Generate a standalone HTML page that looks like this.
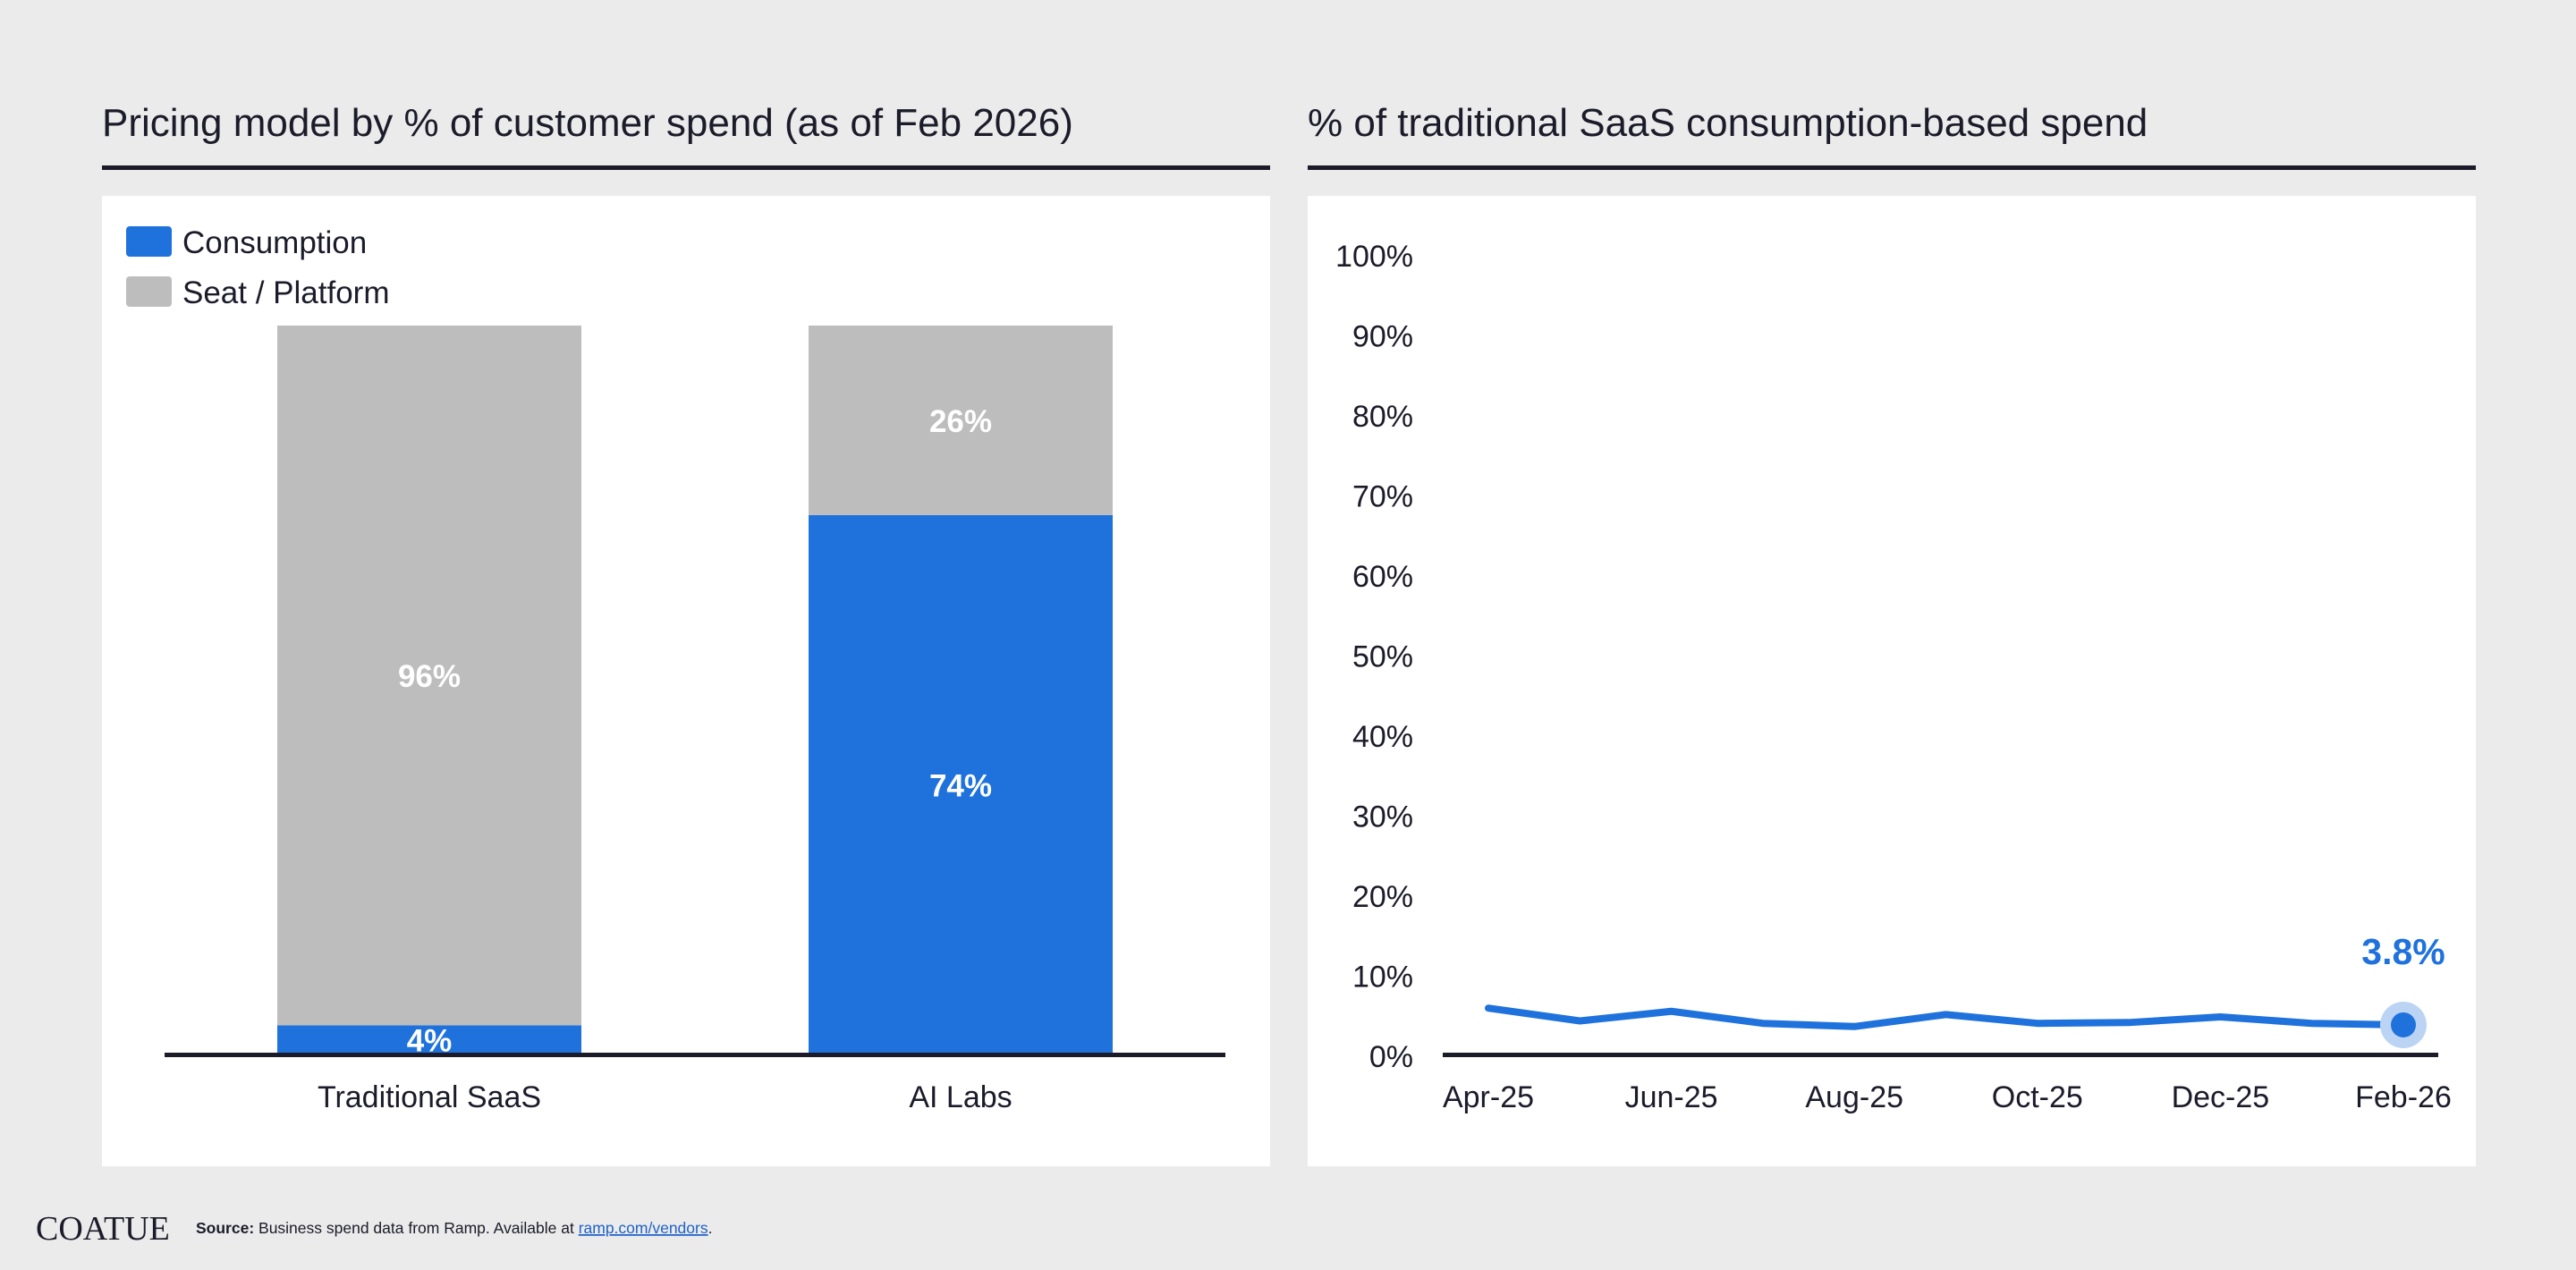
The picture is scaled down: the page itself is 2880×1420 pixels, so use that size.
<!DOCTYPE html>
<html><head><meta charset="utf-8"><style>
html,body{margin:0;padding:0;background:#ebebeb;}
svg{display:block;font-family:"Liberation Sans",Arial,sans-serif;}
</style></head><body>
<svg id="s" width="2880" height="1420" viewBox="0 0 2880 1420" xmlns="http://www.w3.org/2000/svg">
<rect x="0" y="0" width="2880" height="1420" fill="#ebebeb"/>
<text x="114" y="152" font-size="44" fill="#1b1b2a">Pricing model by % of customer spend (as of Feb 2026)</text>
<rect x="114" y="185" width="1306" height="5" fill="#1b1b2a"/>
<text x="1462" y="152" font-size="44" fill="#1b1b2a">% of traditional SaaS consumption-based spend</text>
<rect x="1462" y="185" width="1306" height="5" fill="#1b1b2a"/>
<rect x="114" y="219" width="1306" height="1085" fill="#fff"/>
<rect x="1462" y="219" width="1306" height="1085" fill="#fff"/>
<g>
<rect x="141" y="253" width="51" height="34" rx="4" fill="#1f72dc"/>
<text x="204" y="283" font-size="35" fill="#1b1b2a">Consumption</text>
<rect x="141" y="309" width="51" height="34" rx="4" fill="#bdbdbd"/>
<text x="204" y="339" font-size="35" fill="#1b1b2a">Seat / Platform</text>
</g>
<g id="bars"></g>
<g id="line"></g>
<text x="40" y="1386" font-size="38" font-family="'Liberation Serif',serif" fill="#1b1b2a">COATUE</text>
<text x="219" y="1379" font-size="17.5" fill="#1b1b2a"><tspan font-weight="bold">Source:</tspan> Business spend data from Ramp. Available at <tspan fill="#1f62c8" text-decoration="underline">ramp.com/vendors</tspan>.</text>
</svg>
<script>
const barCategories=["Traditional SaaS","AI Labs"];
const consumptionValues=[4,74];
const seatValues=[96,26];
const lineMonths=["Apr-25","May-25","Jun-25","Jul-25","Aug-25","Sep-25","Oct-25","Nov-25","Dec-25","Jan-26","Feb-26"];
const lineValues=[5.9,4.3,5.5,4.0,3.6,5.1,4.0,4.1,4.8,4.0,3.8];
const yTicks=[0,10,20,30,40,50,60,70,80,90,100];
const xTickLabels=["Apr-25","Jun-25","Aug-25","Oct-25","Dec-25","Feb-26"];
const NS="http://www.w3.org/2000/svg";
function mk(t,a,p){const e=document.createElementNS(NS,t);for(const k in a)e.setAttribute(k,a[k]);p.appendChild(e);return e;}
const bg=document.getElementById('bars');
const bBase=1179,bTop=364,bH=bBase-bTop;
const bY=v=>bBase-v/100*bH;
const bCenters=[480,1074],bW=340;
barCategories.forEach((c,i)=>{
 const cx=bCenters[i],x=cx-bW/2;
 const cv=consumptionValues[i],sv=seatValues[i];
 const r1=mk('rect',{x:x,y:bY(cv),width:bW,height:bBase-bY(cv),fill:'#1f72dc'},bg);
 
 
 const r2=mk('rect',{x:x,y:bY(cv+sv),width:bW,height:bY(cv)-bY(cv+sv),fill:'#bdbdbd'},bg);
 
 
 const t1=mk('text',{x:cx,y:(bY(cv)+bBase)/2+13,'font-size':35,'font-weight':'bold',fill:'#fff','text-anchor':'middle'},bg);
 t1.textContent=cv+'%';
 
 
 const t2=mk('text',{x:cx,y:(bY(cv)+bY(cv+sv))/2+13,'font-size':35,'font-weight':'bold',fill:'#fff','text-anchor':'middle'},bg);
 t2.textContent=sv+'%';
 
 
 const t3=mk('text',{x:cx,y:1238,'font-size':34,fill:'#1b1b2a','text-anchor':'middle'},bg);
 t3.textContent=c;
 
 
});
const ba=mk('rect',{x:184,y:1177,width:1186,height:5,fill:'#1b1b2a'},bg);


const lg=document.getElementById('line');
const lBase=1180,lTop=285;
const lY=v=>lBase-v/100*(lBase-lTop);
const x0=1664,x1=2687;
const lX=i=>x0+i*(x1-x0)/(lineMonths.length-1);
yTicks.forEach(v=>{
 const t=mk('text',{x:1580,y:lY(v)+13,'font-size':34,fill:'#1b1b2a','text-anchor':'end'},lg);
 t.textContent=v+'%';
 
 
});
const la=mk('rect',{x:1613,y:1177,width:1113,height:5,fill:'#1b1b2a'},lg);


xTickLabels.forEach(l=>{
 const i=lineMonths.indexOf(l);
 const t=mk('text',{x:lX(i),y:1238,'font-size':34,fill:'#1b1b2a','text-anchor':'middle'},lg);
 t.textContent=l;
 
 
});
const pts=lineValues.map((v,i)=>lX(i)+','+lY(v)).join(' ');
const pl=mk('polyline',{points:pts,fill:'none',stroke:'#1f72dc','stroke-width':8,'stroke-linejoin':'round','stroke-linecap':'round'},lg);


const li=lineValues.length-1;
const halo=mk('circle',{cx:lX(li),cy:lY(lineValues[li]),r:26,fill:'#bcd4f4'},lg);


const dot=mk('circle',{cx:lX(li),cy:lY(lineValues[li]),r:14,fill:'#1f72dc'},lg);


const lbl=mk('text',{x:lX(li),y:lY(lineValues[li])-68,'font-size':41,'font-weight':'bold',fill:'#1f72dc','text-anchor':'middle'},lg);
lbl.textContent=lineValues[li]+'%';


</script>
</body></html>
